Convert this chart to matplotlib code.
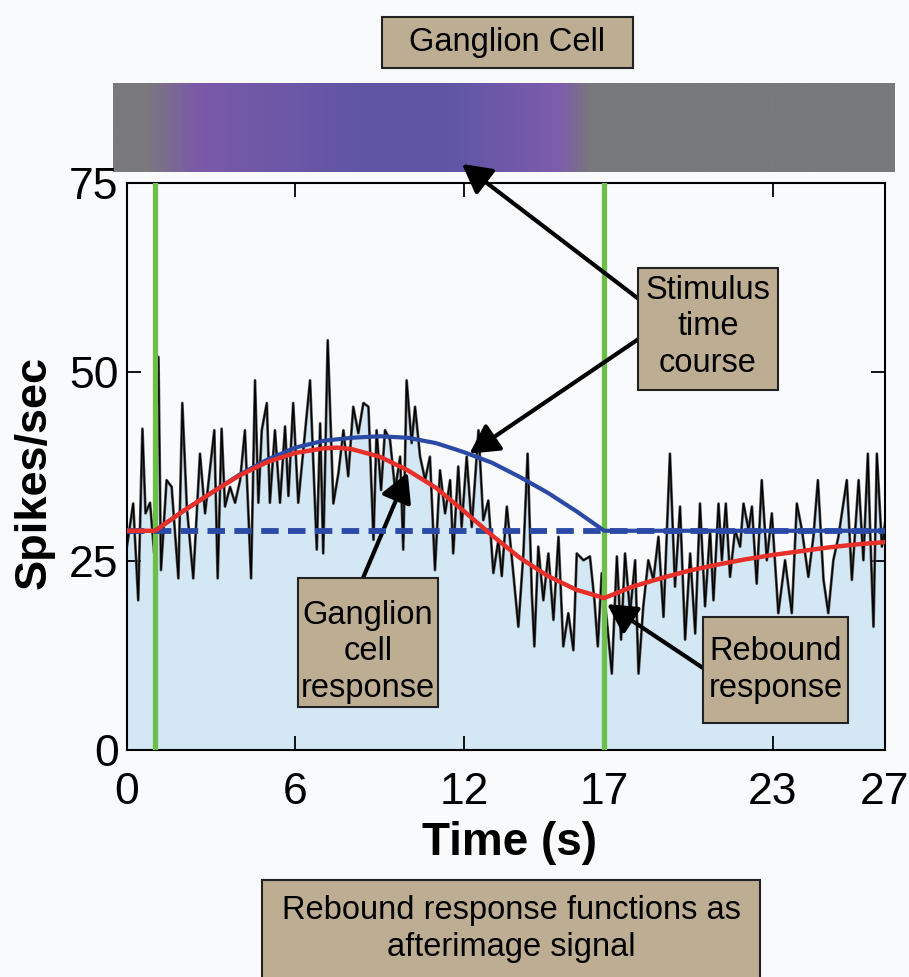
import matplotlib
matplotlib.use('Agg')
import matplotlib.pyplot as plt
from matplotlib.colors import LinearSegmentedColormap
from matplotlib.patches import Rectangle
import numpy as np

plt.rcParams['font.family'] = ['Liberation Sans', 'DejaVu Sans']

W, H = 909, 977

# stimulus time course (blue curve)
stim_t = [1, 2, 3, 4, 5, 6, 7, 8, 9, 10, 11, 12, 13, 14, 15, 16, 17, 27]
stim_v = [29, 31.6, 34.0, 36.4, 38.4, 40.0, 40.9, 41.3, 41.5, 41.3, 40.6, 39.4, 38.0, 36.1, 34.0, 31.6, 29, 29]
baseline = 29

# ganglion cell response (red curve)
resp_t = [0, 1, 2, 3, 4, 5, 6, 7, 7.5, 8, 9, 10, 11, 12, 13, 14, 15, 16, 17,
          18, 19, 20, 21, 22, 23, 24, 25, 26, 27]
resp_v = [29, 29, 31.6, 34.0, 36.3, 38.1, 39.3, 39.9, 40.0, 39.8, 38.8, 37.0, 34.7, 31.6, 28.4,
          25.4, 23.0, 21.2, 20.1, 21.6, 22.7, 23.7, 24.5, 25.2, 25.8, 26.3, 26.8, 27.2, 27.5]

# recorded spike rate (noisy trace)
spike_t = [0.00, 0.22, 0.40, 0.55, 0.66, 0.82, 0.97, 1.12, 1.21, 1.41, 1.59, 1.83, 1.97, 2.13, 2.36,
           2.60, 2.78, 3.11, 3.23, 3.37, 3.49, 3.67, 3.85, 4.03, 4.20, 4.42, 4.56, 4.68, 4.80, 4.98,
           5.09, 5.27, 5.45, 5.63, 5.75, 5.92, 6.10, 6.34, 6.52, 6.76,
           6.88, 6.99, 7.15, 7.23, 7.35, 7.53, 7.71, 7.88, 8.06, 8.24, 8.42, 8.60, 8.78, 8.89, 9.05,
           9.19, 9.37, 9.55, 9.73, 9.84, 9.96, 10.14, 10.26, 10.44, 10.62, 10.79, 10.97, 11.15, 11.33,
           11.51, 11.62, 11.80, 11.92, 12.10, 12.28, 12.52, 12.69, 12.87, 13.05, 13.23, 13.35, 13.53,
           13.76, 13.94, 14.12, 14.27, 14.42, 14.51, 14.65, 14.83, 15.01, 15.19, 15.37, 15.54, 15.72,
           15.90, 16.02, 16.26, 16.49, 16.65, 16.77, 16.91, 17.09, 17.27, 17.45, 17.60, 17.74, 17.92,
           18.10, 18.22, 18.39, 18.57, 18.75, 18.93, 19.11, 19.34, 19.52, 19.70, 19.88, 20.06, 20.24,
           20.41, 20.59, 20.77, 20.89, 21.07, 21.19, 21.33, 21.48, 21.66, 21.84, 21.96, 22.14, 22.26,
           22.43, 22.61, 22.79, 22.97, 23.20, 23.44, 23.68, 23.86, 24.04, 24.27, 24.45, 24.61, 24.81,
           24.98, 25.16, 25.34, 25.64, 25.82, 26.06, 26.23, 26.39, 26.47, 26.59, 26.71, 26.89, 27.00]
spike_v = [27.0, 32.6, 19.8, 42.5, 31.3, 32.7, 26.0, 52.0, 23.8, 35.7, 34.8, 22.7, 45.9, 32.2, 22.7,
           39.2, 31.3, 42.3, 22.7, 42.5, 32.2, 34.8, 32.7, 35.7, 42.3, 22.7, 48.9, 32.7, 42.3, 45.9,
           32.7, 42.3, 32.7, 42.8, 33.6, 45.9, 32.7, 41.9, 48.9, 26.5,
           43.2, 26.0, 54.2, 45.4, 32.6, 36.6, 42.3, 36.2, 45.4, 41.9, 45.9, 45.4, 27.8, 42.3, 34.4,
           42.3, 41.0, 34.4, 38.8, 26.5, 48.9, 40.6, 45.4, 38.8, 35.7, 38.8, 23.8, 37.0, 31.3,
           35.7, 26.0, 37.5, 29.5, 38.8, 29.5, 42.3, 30.4, 33.0, 23.4, 27.8, 23.0, 32.2,
           23.4, 16.3, 26.0, 39.2, 20.7, 13.7, 26.9, 19.8, 26.0, 17.2, 28.2, 13.7, 18.1,
           13.2, 26.0, 25.1, 25.6, 19.8, 13.7, 23.4, 17.2, 10.1, 25.6, 14.6, 26.0, 18.1,
           25.1, 10.1, 19.0, 25.1, 22.5, 28.2, 17.6, 39.2, 21.6, 32.2, 14.6, 26.0, 15.4,
           32.6, 19.0, 29.1, 19.8, 32.6, 25.1, 32.6, 22.9, 29.1, 26.9, 32.6, 29.1, 32.2,
           22.0, 35.7, 25.1, 31.3, 18.1, 25.1, 18.1, 32.6, 29.1, 22.9, 28.2, 35.7, 22.5,
           18.1, 25.1, 28.2, 35.7, 22.5, 35.7, 25.1, 39.2, 29.1, 16.3, 39.2, 26.9, 30.0]

# stimulus on / off markers
events = [1, 17]

# colour bar for the stimulus (time, colour)
bar_t = [-0.5, 0.6, 2.4, 8.5, 11.5, 15.4, 16.6, 27.36]
bar_c = ['#7a7a7c', '#7a7a7c', '#7b5aa8', '#5f55a5', '#6056a6', '#7d5cab', '#78797b', '#78797b']

xticks = [0, 6, 12, 17, 23, 27]
yticks = [0, 25, 50, 75]

tan = '#bdae93'
bg = '#f9fafc'


def fx(x):
    return x / W


def fy(y):
    return 1 - y / H


fig = plt.figure(figsize=(W / 100, H / 100), dpi=100, facecolor=bg)

# stimulus colour strip
bax = fig.add_axes([fx(113), fy(172), (895 - 113) / W, (172 - 83) / H])
bax.set_zorder(1)
pos = [(t - bar_t[0]) / (bar_t[-1] - bar_t[0]) for t in bar_t]
cmap = LinearSegmentedColormap.from_list('stim', list(zip(pos, bar_c)))
bax.imshow(np.linspace(0, 1, 900)[None, :], aspect='auto', cmap=cmap,
           extent=[bar_t[0], bar_t[-1], 0, 1])
bax.axis('off')

# main axes
ax = fig.add_axes([fx(127), fy(750), (885 - 127) / W, (750 - 183) / H])
ax.set_zorder(2)
ax.set_facecolor(bg)
ax.fill_between(spike_t, 0, spike_v, color='#d3e7f4', lw=0, zorder=1)
ax.plot(spike_t, spike_v, color='#555555', lw=2.0, zorder=2)
ax.plot(spike_t, spike_v, color='black', lw=1.0, zorder=2)
for e in events:
    ax.axvline(e, color='#6cc04a', lw=3.8, zorder=3)
ax.plot([0, 27], [baseline, baseline], color='#2a4aa6', lw=4.2, dashes=(3, 1.6), zorder=4)
ax.plot(stim_t, stim_v, color='#2a4aa6', lw=3.0, zorder=5)
ax.plot(resp_t, resp_v, color='#e8302a', lw=3.2, zorder=6)

ax.set_xlim(0, 27)
ax.set_ylim(0, 75)
ax.set_xticks(xticks)
ax.set_yticks(yticks)
ax.tick_params(direction='in', length=10, width=1.3, top=True, right=True,
               labelsize=32, pad=6)
ax.tick_params(axis='x', pad=16)
for s in ax.spines.values():
    s.set_linewidth(1.5)

fig.text(fx(34), fy(472), 'Spikes/sec', rotation=90, ha='center', va='center',
         fontsize=32.5, fontweight='bold')
fig.text(fx(510), fy(843), 'Time (s)', ha='center', va='center',
         fontsize=33, fontweight='bold')


def box(x0, y0, x1, y1, txt, cy):
    r = Rectangle((fx(x0), fy(y1)), (x1 - x0) / W, (y1 - y0) / H, transform=fig.transFigure,
                  facecolor=tan, edgecolor='#222222', lw=1.5, zorder=5)
    fig.add_artist(r)
    fig.text(fx((x0 + x1) / 2), fy(cy), txt, ha='center', va='center', fontsize=23.5,
             linespacing=1.22, zorder=6)


box(382, 17, 633, 68, 'Ganglion Cell', 43)
box(638, 268, 778, 390, 'Stimulus\ntime\ncourse', 327)
box(298, 578, 438, 707, 'Ganglion\ncell\nresponse', 652)
box(703, 617, 848, 723, 'Rebound\nresponse', 670)
box(262, 880, 760, 995, 'Rebound response functions as\nafterimage signal', 929)

arrow = dict(arrowstyle='-|>,head_length=0.55,head_width=0.3', color='black', lw=3.0,
             mutation_scale=32, shrinkA=0, shrinkB=0)
ax.annotate('', xy=(fx(462), fy(164)), xycoords='figure fraction',
            xytext=(fx(640), fy(300)), textcoords='figure fraction',
            arrowprops=arrow, annotation_clip=False)
ax.annotate('', xy=(12.2, 39.2), xytext=(fx(640), fy(338)), textcoords='figure fraction',
            arrowprops=arrow, annotation_clip=False)
ax.annotate('', xy=(10.0, 36.7), xytext=(fx(363), fy(578)), textcoords='figure fraction',
            arrowprops=arrow, annotation_clip=False)
ax.annotate('', xy=(17.1, 19.3), xytext=(fx(703), fy(668)), textcoords='figure fraction',
            arrowprops=arrow, annotation_clip=False)

fig.savefig('out.png', dpi=100, facecolor=bg)
